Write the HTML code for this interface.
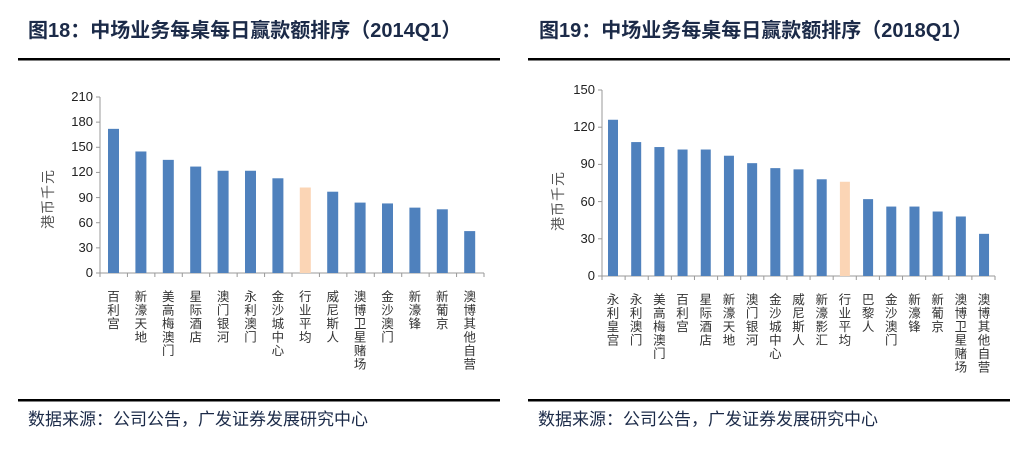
<!DOCTYPE html>
<html><head><meta charset="utf-8"><style>
body{margin:0;width:1032px;height:450px;background:#fff;position:relative;overflow:hidden;font-family:"Liberation Sans","Noto Sans CJK SC",sans-serif}
.t{position:absolute;font-weight:bold;font-size:20px;color:#1b2a48;top:14px;white-space:nowrap}
.f{position:absolute;font-size:17px;color:#1b2a48;top:405px;white-space:nowrap}
.yl{position:absolute;font-size:13px;color:#222;text-align:right;width:40px}
.ya{position:absolute;font-size:14px;color:#555;white-space:nowrap;transform:rotate(-90deg);width:64px;text-align:center;letter-spacing:1px}
</style></head><body>
<div class="t" style="left:28px">图18：中场业务每桌每日赢款额排序（2014Q1）</div>
<div class="t" style="left:539px">图19：中场业务每桌每日赢款额排序（2018Q1）</div>
<div class="f" style="left:28px">数据来源：公司公告，广发证券发展研究中心</div>
<div class="f" style="left:538px">数据来源：公司公告，广发证券发展研究中心</div>
<div class="ya" style="left:16px;top:189px">港币千元</div>
<div class="ya" style="left:526px;top:191px">港币千元</div>
<svg width="1032" height="450" style="position:absolute;left:0;top:0;font-family:'Liberation Sans','Noto Sans CJK SC',sans-serif" id="s"></svg>
<div id="h"></div>
<script>
var s=document.getElementById('s'),h=document.getElementById('h'),o='',hh='';
o+='<rect x="18" y="58" width="482" height="2.5" fill="#000"/><rect x="528" y="58" width="482" height="2.5" fill="#000"/>';
o+='<rect x="18" y="399" width="482" height="2.5" fill="#000"/><rect x="528" y="399" width="482" height="2.5" fill="#000"/>';
function chart(ax,x0,sp,bw,y0,ytop,max,step,vals,labs,orange,axEnd){
 var sc=(y0-ytop)/max;
 o+='<line x1="'+ax+'" y1="'+ytop+'" x2="'+ax+'" y2="'+y0+'" stroke="#999"/>';
 o+='<line x1="'+ax+'" y1="'+y0+'" x2="'+axEnd+'" y2="'+y0+'" stroke="#999"/>';
 for(var v=0;v<=max;v+=step){var y=y0-v*sc;o+='<line x1="'+(ax-4)+'" y1="'+y+'" x2="'+ax+'" y2="'+y+'" stroke="#999"/>';
  hh+='<div class="yl" style="left:'+(ax-47)+'px;top:'+(y-8)+'px">'+v+'</div>';}
 var cw=(axEnd-ax)/vals.length;
 for(var i=0;i<=vals.length;i++){var x=ax+i*cw;o+='<line x1="'+x+'" y1="'+y0+'" x2="'+x+'" y2="'+(y0+4)+'" stroke="#999"/>';}
 for(var i=0;i<vals.length;i++){var x=x0+i*sp,hgt=vals[i]*sc,cx=x+bw/2;
  o+='<rect x="'+x+'" y="'+(y0-hgt)+'" width="'+bw+'" height="'+hgt+'" fill="'+(i==orange?'#fbd5b5':'#4f81bd')+'"/>';
  o+='<text font-size="12.5" fill="#333" text-anchor="middle">';
  for(var k=0;k<labs[i].length;k++)o+='<tspan x="'+cx+'" y="'+(y0+28+k*13.5)+'">'+labs[i][k]+'</tspan>';
  o+='</text>';}
}
chart(100,108,27.4,11,273,97,210,30,[172,145,135,127,122,122,113,102,97,84,83,78,76,50],
['百利宫','新濠天地','美高梅澳门','星际酒店','澳门银河','永利澳门','金沙城中心','行业平均','威尼斯人','澳博卫星赌场','金沙澳门','新濠锋','新葡京','澳博其他自营'],7,484);
chart(602,608,23.19,10,276,90,150,30,[126,108,104,102,102,97,91,87,86,78,76,62,56,56,52,48,34],
['永利皇宫','永利澳门','美高梅澳门','百利宫','星际酒店','新濠天地','澳门银河','金沙城中心','威尼斯人','新濠影汇','行业平均','巴黎人','金沙澳门','新濠锋','新葡京','澳博卫星赌场','澳博其他自营'],10,995);
s.innerHTML=o;h.innerHTML=hh;
</script>
</body></html>
